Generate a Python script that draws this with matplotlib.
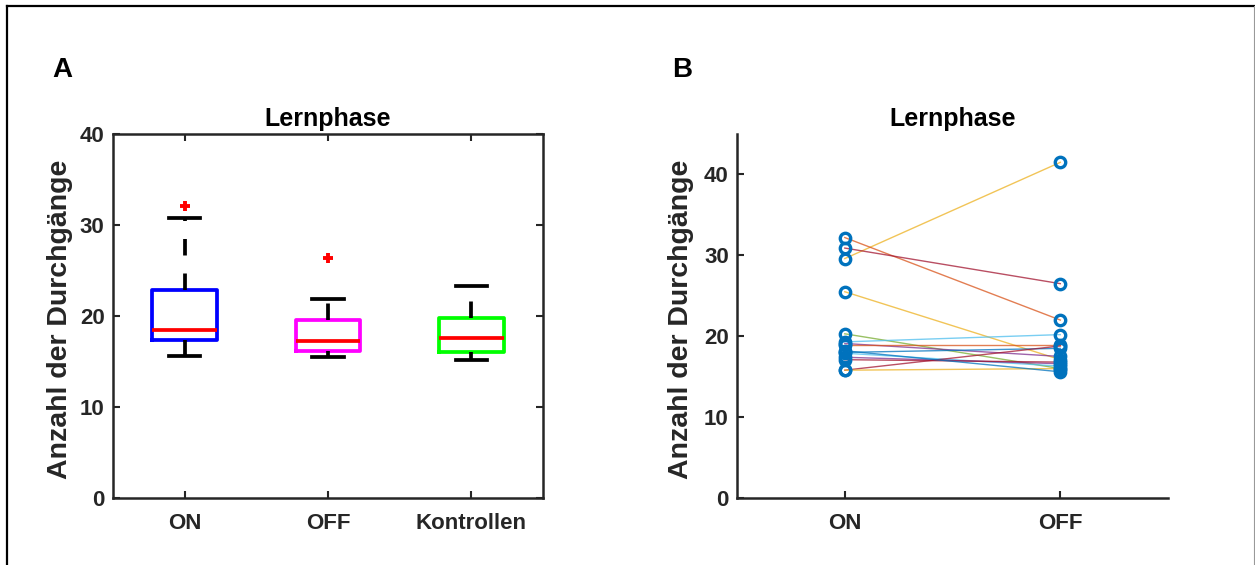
import numpy as np
import matplotlib
matplotlib.use("Agg")
from matplotlib import pyplot as plt
from matplotlib.lines import Line2D

plt.rcParams["font.family"] = ["Liberation Sans", "DejaVu Sans"]
plt.rcParams["font.weight"] = "bold"

# Panel A: box statistics per group
groups = ["ON", "OFF", "Kontrollen"]
box_q1 = [17.4, 16.1, 16.0]
box_med = [18.5, 17.2, 17.6]
box_q3 = [22.9, 19.6, 19.8]
whisk_lo = [15.6, 15.5, 15.2]
whisk_hi = [30.8, 21.9, 23.3]
outliers = [[32.1], [26.4], []]
box_colors = ["#0000FF", "#FF00FF", "#00FF00"]

# Panel B: per-subject values ON vs OFF
conditions = ["ON", "OFF"]
on_vals = [29.6, 32.2, 30.9, 25.5, 20.3, 19.3, 19.1, 18.9, 18.0, 17.9, 17.4, 17.1, 15.8, 15.8, 18.2]
off_vals = [41.5, 22.0, 26.5, 17.1, 16.0, 20.2, 17.5, 18.9, 18.5, 16.3, 16.6, 16.8, 18.8, 16.0, 15.6]
subj_colors = ["#EDB120", "#D95319", "#A2142F", "#EDB120", "#77AC30", "#4DBEEE", "#7E2F8E",
               "#D95319", "#0072BD", "#4DBEEE", "#7E2F8E", "#A2142F", "#A2142F", "#EDB120", "#0072BD"]

ink = "#262626"
ylabel = "Anzahl der Durchgänge"

fig = plt.figure(figsize=(12.55, 5.65), dpi=100)

# ---- A: boxplot
axA = fig.add_axes([0.0900, 0.1186, 0.3427, 0.6442])
stats = []
for i in range(len(groups)):
    stats.append(dict(q1=box_q1[i], med=box_med[i], q3=box_q3[i],
                      whislo=whisk_lo[i], whishi=whisk_hi[i], fliers=outliers[i]))
bp = axA.bxp(stats, positions=[1, 2, 3], widths=0.45, capwidths=0.22, patch_artist=False,
             showfliers=True)
for i, box in enumerate(bp["boxes"]):
    box.set_color(box_colors[i])
    box.set_linewidth(2.7)
for med in bp["medians"]:
    med.set_color("red")
    med.set_linewidth(2.7)
for w in bp["whiskers"]:
    w.set_color("black")
    w.set_linewidth(2.7)
    w.set_linestyle((0, (4.4, 4.8)))
for c in bp["caps"]:
    c.set_color("black")
    c.set_linewidth(2.7)
for f in bp["fliers"]:
    f.set_marker("+")
    f.set_markeredgecolor("red")
    f.set_markeredgewidth(2.8)
    f.set_markersize(7)

axA.set_xlim(0.5, 3.5)
axA.set_ylim(0, 40)
axA.set_yticks([0, 10, 20, 30, 40])
axA.set_xticks([1, 2, 3])
axA.set_xticklabels(groups)
axA.tick_params(direction="in", length=5, width=1.5, colors=ink, labelsize=16,
                top=True, right=True)
axA.tick_params(axis="x", pad=11)
axA.tick_params(axis="y", pad=6)
for s in axA.spines.values():
    s.set_linewidth(1.8)
    s.set_color(ink)
axA.set_title("Lernphase", fontsize=18, fontweight="bold", pad=6)
axA.set_ylabel(ylabel, fontsize=20.5, fontweight="bold", color=ink)
axA.yaxis.set_label_coords(-0.093, 0.49)

# ---- B: paired lines
axB = fig.add_axes([0.5873, 0.1186, 0.3434, 0.6442])
x = np.arange(1, len(conditions) + 1)
for i in range(len(on_vals)):
    axB.plot(x, [on_vals[i], off_vals[i]], color=subj_colors[i], lw=1.0, alpha=0.75)
axB.plot(np.full(len(on_vals), x[0]), on_vals, "o", color="#0072BD", mfc="none",
         ms=7.5, mew=2.4, ls="none")
axB.plot(np.full(len(off_vals), x[1]), off_vals, "o", color="#0072BD", mfc="none",
         ms=7.5, mew=2.4, ls="none")
axB.set_xlim(0.5, 2.5)
axB.set_ylim(0, 45)
axB.set_yticks([0, 10, 20, 30, 40])
axB.set_xticks(x)
axB.set_xticklabels(conditions)
axB.spines["top"].set_visible(False)
axB.spines["right"].set_visible(False)
for s in ("left", "bottom"):
    axB.spines[s].set_linewidth(1.8)
    axB.spines[s].set_color(ink)
axB.tick_params(direction="in", length=5, width=1.5, colors=ink, labelsize=16)
axB.tick_params(axis="x", pad=11)
axB.tick_params(axis="y", pad=6)
axB.set_title("Lernphase", fontsize=18, fontweight="bold", pad=6)
axB.set_ylabel(ylabel, fontsize=20.5, fontweight="bold", color=ink)
axB.yaxis.set_label_coords(-0.10, 0.49)

# panel letters
fig.text(0.0414, 0.876, "A", fontsize=20, fontweight="bold", ha="left", va="center")
fig.text(0.5355, 0.876, "B", fontsize=20, fontweight="bold", ha="left", va="center")

# outer frame (left, top, thin right edge)
fig.add_artist(Line2D([0.0058, 0.0058], [0.0, 0.989], transform=fig.transFigure, color="black", lw=1.6))
fig.add_artist(Line2D([0.0058, 0.999], [0.989, 0.989], transform=fig.transFigure, color="black", lw=1.6))
fig.add_artist(Line2D([0.9992, 0.9992], [0.0, 0.989], transform=fig.transFigure, color="#999999", lw=0.8))

fig.savefig("out.png", dpi=100)
